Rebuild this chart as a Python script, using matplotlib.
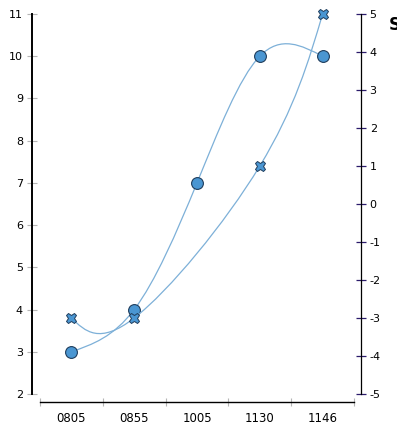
import numpy as np
import matplotlib
matplotlib.use("Agg")
import matplotlib.pyplot as plt
from matplotlib.path import Path
from matplotlib.patches import PathPatch

plt.rcParams['font.family'] = ['DejaVu Sans']
plt.rcParams['axes.unicode_minus'] = False

# ---- data ----
categories = ["0805", "0855", "1005", "1130", "1146"]
circle_values = [3, 4, 7, 10, 10]            # left axis
cross_values = [-3, -3, None, 1, 5]          # right axis (no value at 1005)
left_ticks = list(range(2, 12))
right_ticks = list(range(-5, 6))

LINE_COLOR = "#7db0d8"
FILL = "#4a96d2"
EDGE = "#1f3d5c"


def natural_coeffs(v):
    """second derivatives of a natural cubic spline with uniform parameter"""
    v = np.asarray(v, float)
    n = len(v)
    M = np.zeros(n)
    if n > 2:
        A = np.zeros((n - 2, n - 2))
        b = np.zeros(n - 2)
        for i in range(1, n - 1):
            A[i - 1, i - 1] = 4
            if i - 2 >= 0:
                A[i - 1, i - 2] = 1
            if i < n - 2:
                A[i - 1, i] = 1
            b[i - 1] = 6 * (v[i + 1] - 2 * v[i] + v[i - 1])
        M[1:-1] = np.linalg.solve(A, b)
    return M


def spline_path(xs, ys):
    xs = np.asarray(xs, float)
    ys = np.asarray(ys, float)
    Mx, My = natural_coeffs(xs), natural_coeffs(ys)
    verts = [(xs[0], ys[0])]
    codes = [Path.MOVETO]
    for i in range(len(xs) - 1):
        d0x = (xs[i + 1] - xs[i]) - (2 * Mx[i] + Mx[i + 1]) / 6
        d0y = (ys[i + 1] - ys[i]) - (2 * My[i] + My[i + 1]) / 6
        d1x = (xs[i + 1] - xs[i]) + (Mx[i] + 2 * Mx[i + 1]) / 6
        d1y = (ys[i + 1] - ys[i]) + (My[i] + 2 * My[i + 1]) / 6
        verts += [(xs[i] + d0x / 3, ys[i] + d0y / 3),
                  (xs[i + 1] - d1x / 3, ys[i + 1] - d1y / 3),
                  (xs[i + 1], ys[i + 1])]
        codes += [Path.CURVE4] * 3
    return Path(verts, codes)


W, H = 397, 441
fig = plt.figure(figsize=(W / 100, H / 100), dpi=100)
ax = fig.add_axes([40 / W, (H - 394) / H, 314 / W, 380 / H])
ax.set_xlim(-0.5, len(categories) - 0.5)
ax.set_ylim(2, 11)
ax2 = ax.twinx()
ax2.set_ylim(-5, 5)

px = 72 / 100  # points per pixel

for s in ("top", "right"):
    ax.spines[s].set_visible(False)
ax.spines["left"].set_position(("outward", 8 * px))
ax.spines["left"].set_linewidth(1.4)
ax.spines["bottom"].set_position(("outward", 8 * px))
ax.spines["bottom"].set_linewidth(1.0)
for s in ("top", "left", "bottom"):
    ax2.spines[s].set_visible(False)
ax2.spines["right"].set_position(("outward", 7 * px))
ax2.spines["right"].set_linewidth(0.9)

ax.set_yticks(left_ticks)
ax.tick_params(axis="y", direction="inout", length=7, width=0.8,
               color="#b5b5b5", labelsize=8, pad=3, labelcolor="black")
ax2.set_yticks(right_ticks)
ax2.tick_params(axis="y", direction="inout", length=6.5, width=0.9,
                color="#2b1b6b", labelsize=8, pad=3, labelcolor="black")

xpos = np.arange(len(categories))
ax.set_xticks(xpos)
ax.set_xticklabels(categories)
ax.set_xticks(np.arange(len(categories) + 1) - 0.5, minor=True)
ax.tick_params(axis="x", which="major", length=0, labelsize=8.5, pad=7.5)
ax.tick_params(axis="x", which="minor", direction="inout", length=6,
               width=0.8, color="#b5b5b5")

# circle series on the left axis
ax.add_patch(PathPatch(spline_path(xpos, circle_values), fill=False,
                       edgecolor=LINE_COLOR, lw=0.9, zorder=2))
ax.plot(xpos, circle_values, linestyle="none", marker="o", markersize=8.5,
        markerfacecolor=FILL, markeredgecolor=EDGE, markeredgewidth=0.8,
        zorder=3, clip_on=False)

# cross series on the right axis
cx = [x for x, v in zip(xpos, cross_values) if v is not None]
cy = [v for v in cross_values if v is not None]
ax2.add_patch(PathPatch(spline_path(cx, cy), fill=False,
                        edgecolor=LINE_COLOR, lw=0.9, zorder=2))
ax2.plot(cx, cy, linestyle="none", marker="X", markersize=7.8,
         markerfacecolor=FILL, markeredgecolor=EDGE, markeredgewidth=0.7,
         zorder=3, clip_on=False)

fig.text(389 / W, 1 - 25 / H, "S", fontsize=12, fontweight="bold",
         ha="left", va="center", color="black")

fig.savefig("out.png", dpi=100)
